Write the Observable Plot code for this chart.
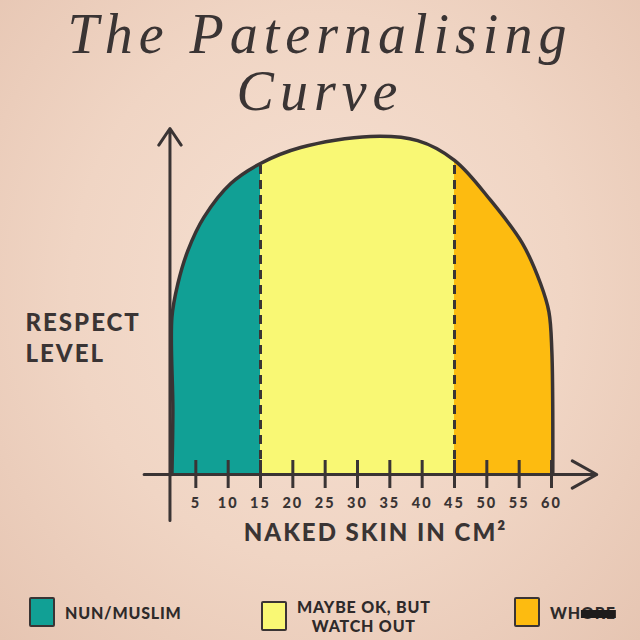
<!DOCTYPE html>
<html>
<head>
<meta charset="utf-8">
<script src="https://cdn.jsdelivr.net/npm/d3@7"></script>
<script src="https://cdn.jsdelivr.net/npm/@observablehq/plot@0.6"></script>
<style>
  html, body { margin: 0; padding: 0; }
  body {
    width: 640px; height: 640px; overflow: hidden; position: relative;
    background: radial-gradient(ellipse at 50% 45%, #f6e0d2 0%, #f0d5c4 55%, #e6c5b2 100%);
    font-family: "Lato", "DejaVu Sans", sans-serif;
    color: #3a3434;
  }
  .title {
    position: absolute; left: 0; width: 640px; text-align: center;
    font-family: "Liberation Serif", serif; font-style: italic; font-weight: normal;
    font-size: 56px; line-height: 1; letter-spacing: 6px; color: #3a3434;
  }
  #chart { position: absolute; left: 0; top: 120px; }
  .item { position: absolute; top: 597px; display: flex; align-items: center; }
  .sw { width: 22px; height: 26px; border: 2px solid #3a3434; border-radius: 2px; }
  .lab { margin-left: 10px; font-weight: 900; font-size: 16px; letter-spacing: 0.8px; line-height: 19px; text-align: center; color: #2e2a2a; }
  .scrib { text-decoration: line-through; text-decoration-thickness: 8px; text-decoration-color: #1e1b1b; }
</style>
</head>
<body>
<div class="title" style="top:6px">The Paternalising</div>
<div class="title" style="top:63px">Curve</div>
<div id="chart"></div>
<div id="legend"></div>
<script>
// ---- data ----
const xTicks = [5, 10, 15, 20, 25, 30, 35, 40, 45, 50, 55, 60];
const curveX = [1.3, 1.45, 1.3, 2.23, 3.77, 6.24, 10.4, 15, 21.2, 32, 39.3, 45, 50.6, 55.5, 58.3, 59.6, 60.05, 60.2];
const curveY = [0, 18.5, 45.4, 55.2, 64.7, 74.3, 84.1, 89.9, 94.5, 97.7, 96.5, 90.8, 79.2, 66.8, 55.2, 47.0, 35.8, 0];
const regionNames = ["NUN/MUSLIM", "MAYBE OK, BUT WATCH OUT", "WHORE"];
const regionStart = [0, 15, 45];
const regionEnd = [15, 45, 61];
const regionColors = ["#11a095", "#f9f874", "#fdbb10"];
const boundaries = [15, 45];
const xAxisExtent = [-3, 67];
const yAxisExtent = [-13.3, 100];
const yAxisAt = 1;
const yLabel = "RESPECT\nLEVEL";
const xLabel = "NAKED SKIN IN CM²";

const ink = "#3a3434";
const pts = curveX.map((x, i) => ({x, y: curveY[i]}));
const regionPts = [];
regionNames.forEach((name, r) => {
  pts.forEach(p => { if (p.x >= regionStart[r] && p.x <= regionEnd[r]) regionPts.push({...p, region: name}); });
});
const bnd = boundaries.map(b => ({x: b, y: pts.find(p => p.x === b).y}));

const plot = Plot.plot({
  width: 640, height: 440,
  marginLeft: 163, marginRight: 89, marginTop: 8, marginBottom: 86,
  style: {background: "transparent", overflow: "visible"},
  x: {domain: [0, 60], axis: null},
  y: {domain: [0, 100], axis: null},
  color: {domain: regionNames, range: regionColors},
  marks: [
    Plot.areaY(regionPts, {x: "x", y1: 0, y2: "y", fill: "region", z: "region", curve: "catmull-rom"}),
    Plot.ruleX(bnd, {x: "x", y1: 0, y2: "y", stroke: ink, strokeWidth: 3, strokeDasharray: "9,6"}),
    Plot.ruleX(xTicks, {x: d => d, y1: 0, y2: 0, insetTop: -14, insetBottom: -14, stroke: ink, strokeWidth: 3}),
    Plot.line(pts, {x: "x", y: "y", curve: "catmull-rom", stroke: ink, strokeWidth: 3.5}),
    Plot.arrow([0], {x1: xAxisExtent[0], x2: xAxisExtent[1], y1: 0, y2: 0, stroke: ink, strokeWidth: 3, headLength: 14, headAngle: 58}),
    Plot.arrow([0], {x1: yAxisAt, x2: yAxisAt, y1: yAxisExtent[0], y2: yAxisExtent[1], stroke: ink, strokeWidth: 3, headLength: 10, headAngle: 68}),
    Plot.text(xTicks, {x: d => d, y: 0, dy: 29, text: d => String(d), fontSize: 14.5, fontWeight: 900, fill: ink, fontFamily: "Lato"}),
    Plot.text([yLabel], {frameAnchor: "left", dx: -138, dy: 35, textAnchor: "start", text: d => d, fontSize: 24, fontWeight: 900, fill: ink, fontFamily: "Lato", lineHeight: 1.3}),
    Plot.text([xLabel], {frameAnchor: "bottom", dx: 18, dy: 66, text: d => d, fontSize: 24, fontWeight: 900, fill: ink, fontFamily: "Lato"})
  ]
});
plot.querySelectorAll("text").forEach(t => t.style.letterSpacing = "2px");
document.getElementById("chart").appendChild(plot);

// legend
const legendLeft = [29, 261, 514];
const legendHTML = [
  "NUN/MUSLIM",
  "MAYBE OK, BUT<br>WATCH OUT",
  'WH<span class="scrib">ORE</span>'
];
const lg = document.getElementById("legend");
regionNames.forEach((n, i) => {
  const it = document.createElement("div");
  it.className = "item";
  it.style.left = legendLeft[i] + "px";
  it.innerHTML = `<div class="sw" style="background:${regionColors[i]}"></div><div class="lab">${legendHTML[i]}</div>`;
  lg.appendChild(it);
});
</script>
</body>
</html>
